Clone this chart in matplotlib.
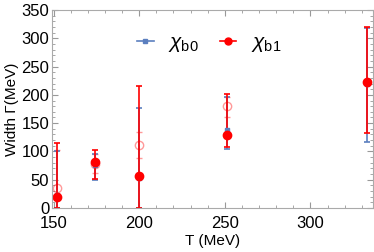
import matplotlib
matplotlib.use("Agg")
import matplotlib.pyplot as plt
from matplotlib.ticker import MultipleLocator
from matplotlib.lines import Line2D
import numpy as np

plt.rcParams['font.family'] = ['Liberation Sans', 'DejaVu Sans']
plt.rcParams['mathtext.fontset'] = 'custom'
plt.rcParams['mathtext.rm'] = 'Liberation Sans'
plt.rcParams['mathtext.it'] = 'Liberation Sans:italic'

# temperatures (MeV)
T = np.array([152, 174, 200, 251, 333])

# chi_b0 (blue)
b0_val = np.array([22, 76, 53, 137, 220])
b0_lo = np.array([0, 50, 0, 105, 116])
b0_hi = np.array([100, 95, 176, 196, 318])

# chi_b1 (red)
b1_val = np.array([20, 81, 57, 129, 222])
b1_lo = np.array([0, 52, 0, 107, 132])
b1_hi = np.array([115, 102, 215, 201, 320])

# faded second set (open circles)
T2 = np.array([152, 174, 200, 251])
alt_val = np.array([36, 78, 111, 180])
alt_lo = np.array([25, 62, 89, 161])
alt_hi = np.array([102, 95, 134, 196])

blue = '#5b7fbf'
red = '#ff0000'

fig, ax = plt.subplots(figsize=(3.74, 2.52), dpi=100)
fig.subplots_adjust(left=0.139, right=0.997, bottom=0.175, top=0.96)

# faded set
ax.errorbar(T2, alt_val, yerr=[alt_val - alt_lo, alt_hi - alt_val], fmt='o',
            mfc='none', mec=red, ecolor=red, color=red, ms=6, capsize=2,
            elinewidth=1.2, alpha=0.4)

ax.errorbar(T, b0_val, yerr=[b0_val - b0_lo, b0_hi - b0_val], fmt='s',
            color=blue, ms=3, capsize=2, elinewidth=1.2, capthick=1.2)
ax.errorbar(T, b1_val, yerr=[b1_val - b1_lo, b1_hi - b1_val], fmt='o',
            color=red, ms=6, capsize=2, elinewidth=1.2, capthick=1.2)

ax.set_xlim(149, 336.5)
ax.set_ylim(0, 350)
ax.xaxis.set_major_locator(MultipleLocator(50))
ax.xaxis.set_minor_locator(MultipleLocator(10))
ax.yaxis.set_major_locator(MultipleLocator(50))
ax.yaxis.set_minor_locator(MultipleLocator(10))
ax.tick_params(which='both', direction='in', top=True, right=True,
               color='#999999', labelsize=12)
ax.tick_params(axis='x', pad=6)
ax.tick_params(axis='y', pad=2)
ax.tick_params(which='major', length=4)
ax.tick_params(which='minor', length=2)
for s in ax.spines.values():
    s.set_color('#aaaaaa')

ax.set_xlabel('T (MeV)', fontsize=11, labelpad=2)
ax.set_ylabel('Width \u0393(MeV)', fontsize=11, labelpad=2)

handles = [Line2D([], [], color=blue, marker='s', ms=3, lw=1.2),
           Line2D([], [], color=red, marker='o', ms=5, lw=1.2)]
labels = [r'$\chi_{\mathrm{b0}}$', r'$\chi_{\mathrm{b1}}$']
ax.legend(handles, labels, loc='center', bbox_to_anchor=(0.49, 0.83), ncol=2,
          frameon=False, fontsize=15, handlelength=0.8, columnspacing=1.0,
          handletextpad=0.7)

fig.savefig('out.png', dpi=100)
